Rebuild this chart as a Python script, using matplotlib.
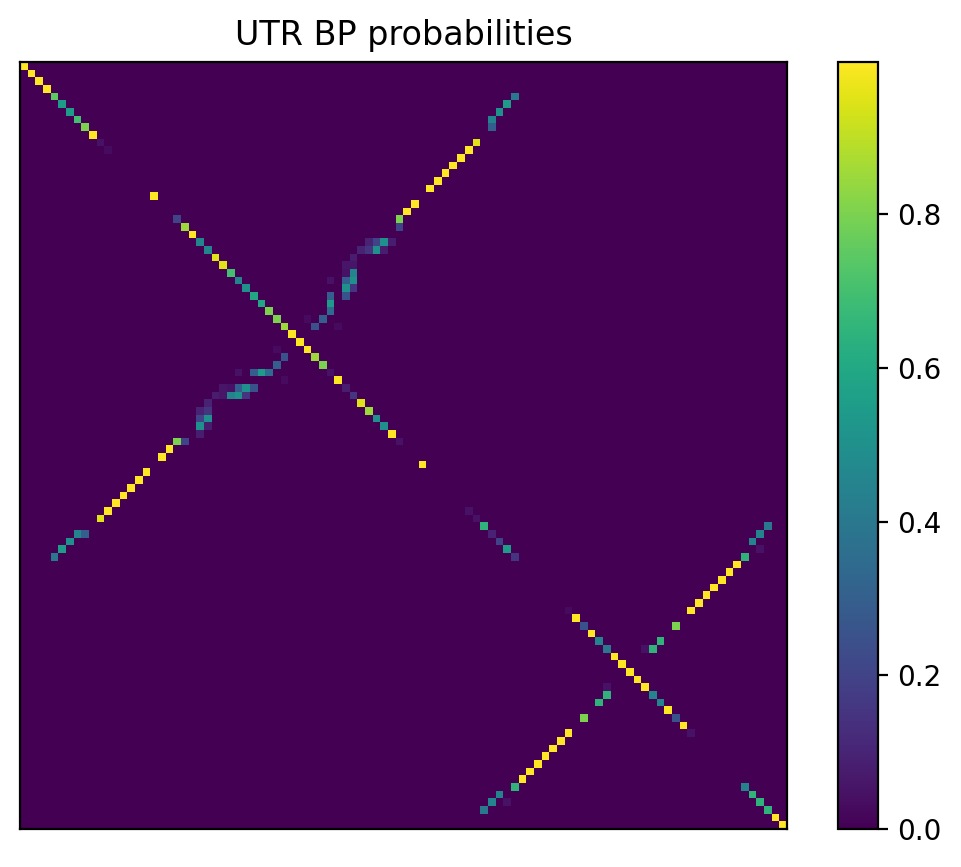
import numpy as np
import matplotlib
matplotlib.use("Agg")
import matplotlib.pyplot as plt

N = 100
# diagonal cells (index, value)
diag_idx = [0,1,2,3,4,5,6,7,8,9,10,11,17,20,21,22,23,24,25,26,27,28,29,30,31,32,33,34,35,36,37,38,39,40,41,42,43,44,45,46,47,48,49,52,
            58,59,60,61,62,63,64,71,72,73,74,75,76,77,78,79,80,81,82,83,84,85,86,87,94,95,96,97,98,99]
diag_val = [1.0,1.0,1.0,1.0,0.75,0.55,0.55,0.7,0.8,0.998,0.05,0.03,0.998,0.2,0.85,0.998,0.45,0.45,0.95,0.95,0.7,0.45,0.5,0.6,0.6,0.8,0.8,0.85,1.0,1.0,1.0,0.85,0.8,0.05,1.0,0.08,0.15,0.95,0.85,0.5,0.5,1.0,0.05,1.0,
            0.05,0.05,0.65,0.1,0.2,0.55,0.15,0.03,1.0,0.25,1.0,0.45,0.4,1.0,1.0,1.0,1.0,1.0,0.45,0.45,1.0,0.25,1.0,0.05,0.45,0.65,0.65,0.65,1.0,1.0]
# off-diagonal pairs (i, j, value), mirrored
pair_i = [4,5,6,7,8,10,11,12,13,14,15,16,18,19,20,21,
          23,23,23,23,24,24,24,24,25,26,26,27,27,28,28,28,29,29,30,30,31,32,33,33,34,34,
          60,61,62,63,64,65,66,67,68,69,70,71,73,75,76,76]
pair_j = [64,63,62,61,61,59,58,57,56,55,54,53,51,50,49,49,
          45,46,47,48,44,45,46,47,43,42,43,42,43,40,42,43,42,43,40,42,40,40,37,39,38,41,
          97,96,95,96,94,93,92,91,90,89,88,87,85,83,82,81]
pair_v = [0.4,0.55,0.5,0.45,0.3,0.95,1.0,1.0,1.0,1.0,1.0,1.0,1.0,1.0,0.8,0.2,
          0.1,0.2,0.5,0.08,0.1,0.15,0.5,0.08,0.08,0.06,0.06,0.05,0.45,0.05,0.3,0.5,0.5,0.15,0.3,0.25,0.55,0.35,0.03,0.3,0.25,0.03,
          0.4,0.45,0.45,0.05,0.65,1.0,1.0,1.0,1.0,1.0,1.0,1.0,0.8,0.65,0.65,0.05]

M = np.zeros((N, N))
for k, v in zip(diag_idx, diag_val):
    M[k, k] = min(v, 0.998)
for i, j, v in zip(pair_i, pair_j, pair_v):
    M[i, j] = M[j, i] = min(v, 0.998)

fig = plt.figure(figsize=(961/200, 867/200), dpi=200)
ax = fig.add_axes([20/961, 1-829/867, 767/961, 767/867])
im = ax.imshow(M, cmap="viridis", interpolation="nearest", aspect="auto")
ax.set_xticks([]); ax.set_yticks([])
ax.set_title("UTR BP probabilities", fontsize=12)
cax = fig.add_axes([838/961, 1-829/867, 40/961, 767/867])
fig.colorbar(im, cax=cax, ticks=[0.0, 0.2, 0.4, 0.6, 0.8])
fig.savefig("out.png", dpi=200)
